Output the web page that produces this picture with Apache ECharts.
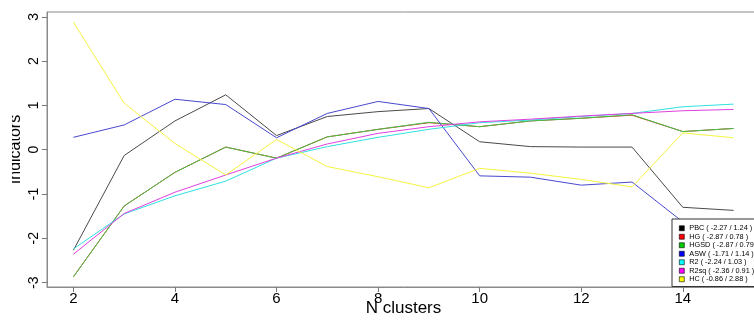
<!DOCTYPE html>
<html>
<head>
<meta charset="utf-8">
<script src="https://cdn.jsdelivr.net/npm/echarts@6/dist/echarts.min.js"></script>
<style>
  html, body { margin: 0; padding: 0; background: #fff; overflow: hidden; }
  body { width: 754px; height: 322px; position: relative; }
  /* the left edge of the figure is clipped, like the original export */
  #chart { position: absolute; left: 12px; top: 0; width: 760px; height: 322px; }
</style>
</head>
<body>
<div id="chart"></div>
<script>
const clusters = [2, 3, 4, 5, 6, 7, 8, 9, 10, 11, 12, 13, 14, 15]

const pbc  = [-2.27, -0.13, 0.65, 1.24, 0.32, 0.75, 0.86, 0.93, 0.18, 0.07, 0.06, 0.06, -1.30, -1.37]
const hg   = [-2.87, -1.27, -0.51, 0.06, -0.19, 0.29, 0.46, 0.61, 0.52, 0.65, 0.71, 0.78, 0.41, 0.48]
const hgsd = [-2.87, -1.27, -0.51, 0.06, -0.19, 0.29, 0.46, 0.62, 0.52, 0.65, 0.71, 0.79, 0.41, 0.48]
const asw  = [0.28, 0.56, 1.14, 1.02, 0.27, 0.82, 1.09, 0.93, -0.59, -0.62, -0.80, -0.73, -1.63, -1.71]
const r2   = [-2.24, -1.45, -1.04, -0.71, -0.19, 0.07, 0.28, 0.46, 0.61, 0.67, 0.75, 0.82, 0.97, 1.03]
const r2sq = [-2.36, -1.44, -0.96, -0.57, -0.19, 0.13, 0.37, 0.52, 0.63, 0.69, 0.76, 0.82, 0.88, 0.91]
const hc   = [2.88, 1.05, 0.14, -0.57, 0.23, -0.38, -0.61, -0.86, -0.42, -0.53, -0.67, -0.84, 0.38, 0.27]

const legendLabels = [
  'PBC ( -2.27 / 1.24 )',
  'HG ( -2.87 / 0.78 )',
  'HGSD ( -2.87 / 0.79 )',
  'ASW ( -1.71 / 1.14 )',
  'R2 ( -2.24 / 1.03 )',
  'R2sq ( -2.36 / 0.91 )',
  'HC ( -0.86 / 2.88 )',
]

const xTicks = [2, 4, 6, 8, 10, 12, 14]
const yTicks = [-3, -2, -1, 0, 1, 2, 3]

const seriesData = [pbc, hg, hgsd, asw, r2, r2sq, hc]
const fillColors = ['#000000', '#ff0000', '#00cd00', '#0000ff', '#00ffff', '#ff00ff', '#ffff00']
const lineColors = ['#4a4a4a', '#e03030', '#44c444', '#4848d0', '#30e0e0', '#e040e0', '#f4f440']

const FONT = '"Liberation Sans", Arial, sans-serif'

const chart = echarts.init(document.getElementById('chart'), null, { renderer: 'canvas' })

const series = seriesData.map((vals, i) => ({
  name: legendLabels[i],
  type: 'line',
  data: clusters.map((c, j) => [c, vals[j]]),
  showSymbol: false,
  symbol: 'none',
  itemStyle: { color: fillColors[i] },
  lineStyle: { color: lineColors[i], width: 1 },
  emphasis: { disabled: true },
  animation: false,
}))

chart.setOption({
  backgroundColor: '#fff',
  animation: false,
  grid: {
    left: 35, right: 12, top: 12, bottom: 35,
    containLabel: false,
    outerBoundsMode: 'none',
    show: true, borderColor: '#8a8a8a', borderWidth: 1, backgroundColor: 'transparent',
  },
  xAxis: {
    type: 'value',
    min: 1.48,
    max: 15.52,
    name: 'N clusters',
    nameLocation: 'middle',
    nameGap: 13,
    nameMoveOverlap: false,
    nameTextStyle: { color: '#000', fontSize: 17, fontFamily: FONT },
    axisLine: { show: true, onZero: false, lineStyle: { color: '#8a8a8a' } },
    axisTick: { show: true, length: 5, customValues: xTicks, lineStyle: { color: '#777' } },
    axisLabel: { customValues: xTicks, color: '#000', fontSize: 15, fontFamily: FONT, margin: 4 },
    splitLine: { show: false },
  },
  yAxis: {
    type: 'value',
    min: -3.1,
    max: 3.11,
    name: 'Indicators',
    nameLocation: 'middle',
    nameRotate: 90,
    nameGap: 23,
    nameMoveOverlap: false,
    nameTextStyle: { color: '#000', fontSize: 16, fontFamily: FONT },
    axisLine: { show: true, onZero: false, lineStyle: { color: '#8a8a8a' } },
    axisTick: { show: true, length: 5, customValues: yTicks, lineStyle: { color: '#777' } },
    axisLabel: { customValues: yTicks, rotate: 90, color: '#000', fontSize: 14, fontFamily: FONT, margin: 6 },
    splitLine: { show: false },
  },
  legend: {
    orient: 'vertical',
    left: 660,
    top: 219,
    padding: [5, 12, 3, 7],
    itemGap: 0,
    itemWidth: 5,
    itemHeight: 5,
    icon: 'rect',
    backgroundColor: '#fff',
    borderColor: '#333',
    borderWidth: 1,
    borderRadius: 0,
    selectedMode: false,
    itemStyle: { borderColor: '#000', borderWidth: 0.6 },
    textStyle: { color: '#000', fontSize: 7.3, lineHeight: 8.5, fontFamily: FONT, padding: 0 },
    data: legendLabels,
  },
  series,
})
</script>
</body>
</html>
